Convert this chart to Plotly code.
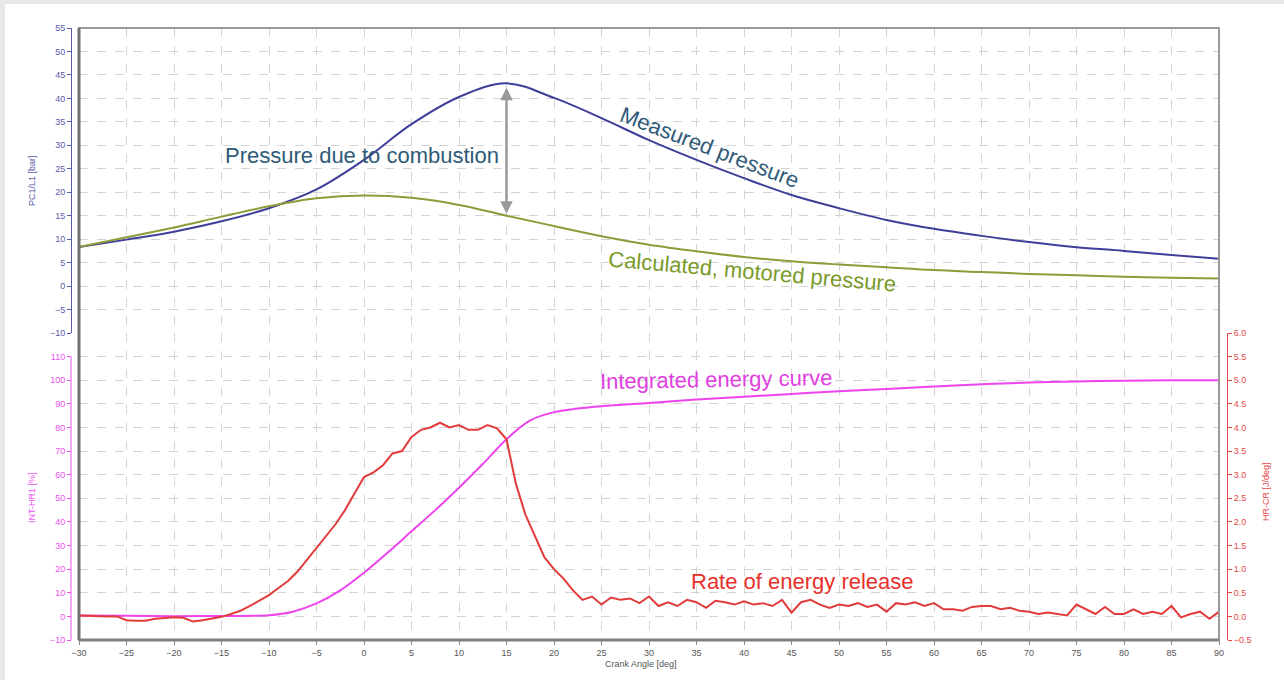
import plotly.graph_objects as go

# ---------------- data ----------------
angle_p = [-30, -25, -20, -15, -10, -5, 0, 5, 10, 15, 20, 25, 30, 35, 40, 45, 50, 55, 60, 65, 70, 75, 80, 85, 90]
measured_bar = [8.3, 9.9, 11.6, 13.8, 16.6, 20.6, 26.9, 34.5, 40.3, 43.2, 40.1, 35.8, 31.1, 26.9, 23.0, 19.4,
                16.6, 14.1, 12.2, 10.7, 9.4, 8.3, 7.5, 6.6, 5.8]
motored_bar = [8.3, 10.4, 12.5, 14.8, 17.0, 18.7, 19.3, 18.8, 17.3, 15.0, 12.8, 10.6, 8.8, 7.4, 6.2, 5.3,
               4.6, 4.0, 3.4, 3.0, 2.6, 2.3, 2.0, 1.8, 1.6]

angle_e = [-30, -25, -20, -15, -10, -7.5, -5, -2.5, 0, 2.5, 5, 7.5, 10, 12.5, 15, 17.5, 20, 22.5, 25,
           30, 35, 40, 45, 50, 55, 60, 65, 70, 75, 80, 85, 90]
energy_pct = [0.4, 0.3, 0.1, 0.2, 0.5, 2.0, 5.5, 11.0, 18.5, 27.0, 36.0, 45.0, 54.5, 64.5, 75.0, 83.0,
              86.5, 88.0, 89.0, 90.4, 91.8, 93.0, 94.2, 95.3, 96.3, 97.3, 98.3, 99.0, 99.5, 99.8, 100.0, 100.0]

angle_r = list(range(-30, 91))
rate = [0.02, 0.01, 0.0, 0.0, 0.0, -0.08, -0.09, -0.09, -0.05, -0.03,
        -0.02, -0.03, -0.11, -0.08, -0.04, -0.01, 0.05, 0.12, 0.22, 0.33,
        0.45, 0.6, 0.75, 0.95, 1.2, 1.45, 1.7, 1.95, 2.25, 2.6,
        2.95, 3.05, 3.2, 3.45, 3.5, 3.8, 3.95, 4.0, 4.1, 4.0,
        4.05, 3.95, 3.95, 4.05, 3.98, 3.75, 2.8, 2.15, 1.7, 1.25,
        1.0, 0.8, 0.55, 0.35, 0.42, 0.25, 0.4, 0.35, 0.38, 0.28,
        0.42, 0.22, 0.3, 0.22, 0.35, 0.3, 0.18, 0.33, 0.3, 0.25,
        0.32, 0.25, 0.28, 0.22, 0.35, 0.08, 0.3, 0.35, 0.25, 0.18,
        0.25, 0.22, 0.28, 0.2, 0.25, 0.1, 0.28, 0.25, 0.3, 0.22,
        0.28, 0.15, 0.15, 0.12, 0.2, 0.22, 0.22, 0.15, 0.18, 0.12,
        0.1, 0.05, 0.08, 0.05, 0.02, 0.25, 0.15, 0.05, 0.2, 0.05,
        0.05, 0.15, 0.05, 0.1, 0.05, 0.22, -0.02, 0.05, 0.1, -0.05, 0.1]

top_ticks = list(range(-10, 56, 5))
left_ticks = list(range(-10, 111, 10))
right_ticks = [-0.5, 0.0, 0.5, 1.0, 1.5, 2.0, 2.5, 3.0, 3.5, 4.0, 4.5, 5.0, 5.5, 6.0]
x_ticks = list(range(-30, 91, 5))

# ---------------- geometry helpers ----------------
W, H = 1284, 680
ML, MR, MT, MB = 71, 57, 28, 40
PW, PH = W - ML - MR, H - MT - MB


def px(x):
    return (x - ML) / PW


def py(y):
    return (H - MB - y) / PH


FONT = "Arial, Liberation Sans, sans-serif"
BLUE = "#5a5aa8"
MAG = "#ee50ee"
RED = "#e84848"
GRID = "#d4d4d4"
split = py(333)

fig = go.Figure()
fig.add_trace(go.Scatter(x=angle_p, y=measured_bar, mode="lines", line=dict(color="#3f3f9a", width=2, shape="spline"),
                         xaxis="x", yaxis="y", name="Measured pressure"))
fig.add_trace(go.Scatter(x=angle_p, y=motored_bar, mode="lines", line=dict(color="#8c9c3a", width=2, shape="spline"),
                         xaxis="x", yaxis="y", name="Motored pressure"))
fig.add_trace(go.Scatter(x=angle_e, y=energy_pct, mode="lines", line=dict(color="#ee44ee", width=2, shape="spline"),
                         xaxis="x", yaxis="y2", name="Integrated energy"))
fig.add_trace(go.Scatter(x=angle_r, y=rate, mode="lines", line=dict(color="#e23b3b", width=2),
                         xaxis="x", yaxis="y3", name="Rate of energy release"))

fig.update_layout(
    width=W, height=H, margin=dict(l=ML, r=MR, t=MT, b=MB),
    paper_bgcolor="white", plot_bgcolor="white", showlegend=False,
    font=dict(family=FONT),
    xaxis=dict(domain=[px(79), px(1219)], range=[-30, 90], tickvals=x_ticks, anchor="y2",
               showgrid=True, gridcolor=GRID, griddash="dash", gridwidth=1, zeroline=False,
               ticks="outside", ticklen=4, tickcolor="#888", tickfont=dict(family=FONT, size=9, color="#555"),
               showline=False),
    yaxis=dict(domain=[split, 1], range=[-10, 55], tickvals=top_ticks, anchor="free", position=0,
               showgrid=True, gridcolor=GRID, griddash="dash", zeroline=False,
               ticks="outside", ticklen=4, tickcolor=BLUE, tickfont=dict(family=FONT, size=9, color=BLUE),
               showline=True, linecolor=BLUE, linewidth=1),
    yaxis2=dict(domain=[0, split], range=[-10, 120], tickvals=left_ticks, anchor="free", position=0,
                showgrid=True, gridcolor=GRID, griddash="dash", zeroline=False,
                ticks="outside", ticklen=4, tickcolor=MAG, tickfont=dict(family=FONT, size=9, color=MAG),
                showline=False),
    yaxis3=dict(overlaying="y2", side="right", anchor="free", position=1, range=[-0.5, 6.0],
                tickvals=right_ticks, tickformat=".1f", showgrid=False, zeroline=False,
                ticks="outside", ticklen=4, tickcolor=RED, tickfont=dict(family=FONT, size=9, color=RED),
                showline=True, linecolor=RED, linewidth=1),
)

shapes = [
    # page border strips
    dict(type="rect", xref="paper", yref="paper", x0=px(0), x1=px(5), y0=py(680), y1=py(0),
         fillcolor="#e8e8e8", line=dict(width=0), layer="below"),
    dict(type="rect", xref="paper", yref="paper", x0=px(0), x1=px(1284), y0=py(4), y1=py(0),
         fillcolor="#e8e8e8", line=dict(width=0), layer="below"),
    # plot frame
    dict(type="rect", xref="paper", yref="paper", x0=px(79), x1=px(1219), y0=0, y1=1,
         line=dict(color="#9a9a9a", width=2)),
    dict(type="line", xref="paper", yref="paper", x0=px(79), x1=px(79), y0=0, y1=1,
         line=dict(color="#707070", width=3)),
    dict(type="line", xref="paper", yref="paper", x0=px(79), x1=px(1219), y0=0, y1=0,
         line=dict(color="#808080", width=3)),
    # bottom-left axis line
    dict(type="line", xref="paper", yref="y2", x0=0, x1=0, y0=-10, y1=110,
         line=dict(color=MAG, width=1)),
]
fig.update_layout(shapes=shapes)


def label(xp, yp, text, size, color, angle=0):
    return dict(x=px(xp), y=py(yp), xref="paper", yref="paper", text=text, showarrow=False,
                xanchor="center", yanchor="middle", textangle=angle,
                font=dict(family=FONT, size=size, color=color))


ann = [
    dict(x=15, y=15.4, ax=15, ay=42.6, xref="x", yref="y", axref="x", ayref="y", text="",
         showarrow=True, arrowhead=2, startarrowhead=2, arrowside="end+start", arrowsize=1,
         arrowwidth=2.5, arrowcolor="#9a9a9a"),
    label(362, 155, "Pressure due to combustion", 22, "#2f5a78"),
    label(710, 147, "Measured pressure", 22, "#2f5a78", 21),
    label(752, 271, "Calculated, motored pressure", 22, "#7a9a2a", 5),
    label(716, 379, "Integrated energy curve", 22, "#e040e0", -1),
    label(802, 581, "Rate of energy release", 22, "#e8302a"),
    label(32, 180, "PC1/L1 [bar]", 9, BLUE, -90),
    label(32, 497, "INT-HR1 [%]", 9, MAG, -90),
    label(1266, 492, "HR-CR [J/deg]", 9, RED, -90),
    label(641, 664, "Crank Angle [deg]", 9, "#555"),
]
fig.update_layout(annotations=ann)

fig.write_html("out.html", config={"displayModeBar": False},
               post_script="document.body.style.margin='0';document.body.style.overflow='hidden';")
